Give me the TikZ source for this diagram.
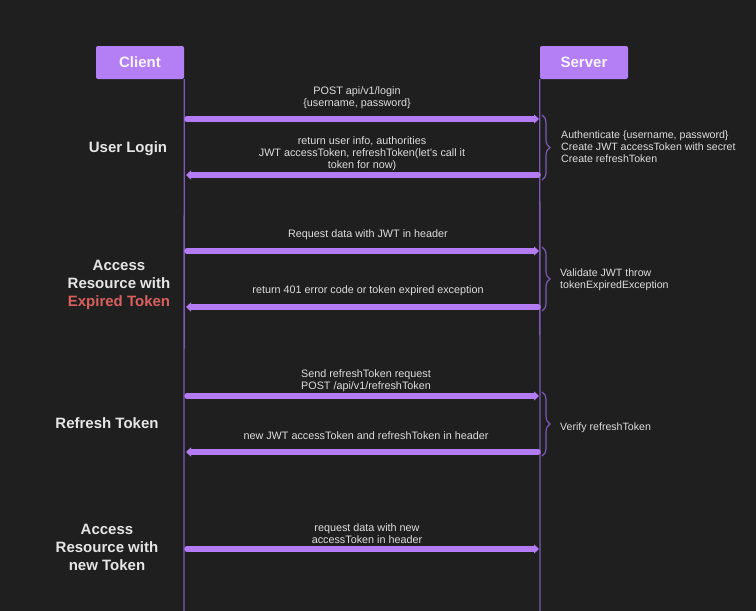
\documentclass[tikz,border=0pt]{standalone}
\usepackage{fontspec}
\setmainfont{Liberation Sans}
\usepackage{xcolor}
\usetikzlibrary{arrows.meta}
\usetikzlibrary{positioning}
\usetikzlibrary{decorations.pathreplacing}
\definecolor{bgdark}{HTML}{1F1F1F}
\definecolor{boxpurple}{HTML}{B47EF5}
\definecolor{msgpurple}{HTML}{B37CF4}
\definecolor{lifepurple}{HTML}{7D58B5}
\definecolor{msgtext}{HTML}{DEDEDE}
\definecolor{headtext}{HTML}{E6E6E6}
\definecolor{expiredred}{HTML}{D9605E}

\begin{document}
\begin{tikzpicture}[x=1pt, y=-1pt,
		actor/.style={fill=boxpurple, rounded corners=2pt, minimum width=88pt, minimum height=33pt, inner sep=0pt, text=white!92!boxpurple, font=\bfseries\fontsize{15}{18}\selectfont},
		lifeline/.style={lifepurple, line width=1.3pt},
		msg/.style={msgpurple, line width=5.5pt, line cap=round, -{Triangle[length=5pt, width=9pt]}},
		msglabel/.style={text=msgtext, align=center, inner sep=0pt, font=\fontsize{10.8}{12}\selectfont},
		note/.style={text=msgtext, align=left, anchor=west, inner sep=0pt, font=\fontsize{10.6}{12}\selectfont},
		phase/.style={text=headtext, align=center, inner sep=0pt, font=\bfseries\fontsize{15}{18}\selectfont},
		bracket/.style={lifepurple, line width=1.2pt, decorate, decoration={brace, amplitude=8pt}}]
			% background
			\fill[bgdark] (0,0) rectangle (756,611);
			\useasboundingbox (0,0) rectangle (756,611);
			
			% actors and lifelines
			\node[actor] (client) at (140,62.5) {Client};
			\node[actor] (server) at (584,62.5) {Server};
			\coordinate (clientend) at (184,611);
			\coordinate (serverend) at (540,611);
			\draw[lifeline] (client.south east) -- (clientend);
			\draw[lifeline] (server.south west) -- (serverend);
			
			% message end points
			\coordinate (c1) at (187,119); \coordinate (s1) at (539,119);
			\coordinate (c2) at (186,175); \coordinate (s2) at (538,175);
			\coordinate (c3) at (187,251); \coordinate (s3) at (539,251);
			\coordinate (c4) at (186,307); \coordinate (s4) at (538,307);
			\coordinate (c5) at (187,396); \coordinate (s5) at (539,396);
			\coordinate (c6) at (186,452); \coordinate (s6) at (538,452);
			\coordinate (c7) at (187,549); \coordinate (s7) at (539,549);
			
			% user login
			\node[phase] (login) at (128,149) {User Login};
			\draw[msg] (c1) -- (s1);
			\node[msglabel] (m1) at (357,98) {POST api/v1/login\\\{username, password\}};
			\draw[msg] (s2) -- (c2);
			\node[msglabel] (m2) at (362,154) {return user info, authorities\\JWT accessToken, refreshToken(let's call it\\token for now)};
			\draw[bracket] (542,115) -- (542,180);
			\node[note] (n1) at (561,147) {Authenticate \{username, password\}\\Create JWT accessToken with secret\\Create refreshToken};
			
			% expired token
			\node[phase] (expired) at (119,285) {Access\\Resource with\\\textcolor{expiredred}{Expired Token}};
			\draw[msg] (c3) -- (s3);
			\node[msglabel] (m3) at (368,235) {Request data with JWT in header};
			\draw[msg] (s4) -- (c4);
			\node[msglabel] (m4) at (368,291) {return 401 error code or token expired exception};
			\draw[bracket] (542,247) -- (542,311);
			\node[note] (n2) at (560,280) {Validate JWT throw\\tokenExpiredException};
			
			% refresh token
			\node[phase] (refresh) at (107,423) {Refresh Token};
			\draw[msg] (c5) -- (s5);
			\node[msglabel] (m5) at (366,381) {Send refreshToken request\\POST /api/v1/refreshToken};
			\draw[msg] (s6) -- (c6);
			\node[msglabel] (m6) at (366,436) {new JWT accessToken and refreshToken in header};
			\draw[bracket] (542,392) -- (542,456);
			\node[note] (n3) at (560,428) {Verify refreshToken};
			
			% new token
			\node[phase] (newtoken) at (107,547) {Access\\Resource with\\new Token};
			\draw[msg] (c7) -- (s7);
			\node[msglabel] (m7) at (367,534) {request data with new\\accessToken in header};
		\end{tikzpicture}
\end{document}
